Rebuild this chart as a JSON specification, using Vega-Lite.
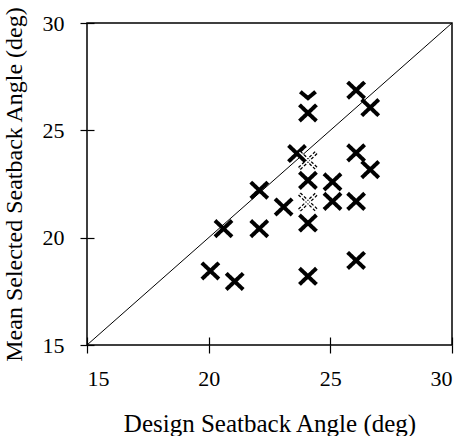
{
  "$schema": "https://vega.github.io/schema/vega-lite/v6.json",
  "width": 365,
  "height": 322,
  "autosize": "none",
  "padding": {"left": 87, "top": 23, "right": 15, "bottom": 91},
  "background": "white",
  "config": {
    "view": {"stroke": "black", "strokeWidth": 1.5},
    "font": "Liberation Serif",
    "axis": {
      "grid": false,
      "domain": false,
      "labelFont": "Liberation Serif",
      "titleFont": "Liberation Serif",
      "labelColor": "black",
      "titleColor": "black",
      "tickColor": "black",
      "labelFontSize": 22,
      "titleFontSize": 24,
      "titleFontWeight": "normal",
      "tickWidth": 1.2
    }
  },
  "resolve": {"axis": {"x": "independent", "y": "independent"}},
  "datasets": {
    "pts": [
      {"design": 20.07, "selected": 18.45, "kind": "solid"},
      {"design": 21.07, "selected": 17.96, "kind": "solid"},
      {"design": 20.61, "selected": 20.42, "kind": "solid"},
      {"design": 22.08, "selected": 20.42, "kind": "solid"},
      {"design": 22.08, "selected": 22.21, "kind": "solid"},
      {"design": 23.08, "selected": 21.43, "kind": "solid"},
      {"design": 23.63, "selected": 23.92, "kind": "solid"},
      {"design": 24.08, "selected": 26.5, "kind": "half"},
      {"design": 24.08, "selected": 25.81, "kind": "solid"},
      {"design": 24.08, "selected": 22.67, "kind": "solid"},
      {"design": 24.08, "selected": 20.68, "kind": "solid"},
      {"design": 24.08, "selected": 18.2, "kind": "solid"},
      {"design": 24.08, "selected": 23.6, "kind": "ghost"},
      {"design": 24.08, "selected": 21.66, "kind": "ghost"},
      {"design": 25.09, "selected": 22.6, "kind": "solid"},
      {"design": 25.09, "selected": 21.69, "kind": "solid"},
      {"design": 26.06, "selected": 26.87, "kind": "solid"},
      {"design": 26.64, "selected": 26.06, "kind": "solid"},
      {"design": 26.06, "selected": 23.95, "kind": "solid"},
      {"design": 26.64, "selected": 23.17, "kind": "solid"},
      {"design": 26.06, "selected": 21.69, "kind": "solid"},
      {"design": 26.06, "selected": 18.94, "kind": "solid"}
    ],
    "diag": [
      {"design": 15, "selected": 15},
      {"design": 30, "selected": 30}
    ]
  },
  "layer": [
    {
      "data": {"name": "diag"},
      "mark": {"type": "line", "color": "black", "strokeWidth": 1, "clip": true},
      "encoding": {
        "x": {
          "field": "design", "type": "quantitative",
          "scale": {"domain": [15, 30], "nice": false, "zero": false},
          "axis": {
            "orient": "bottom",
            "values": [15, 20, 25, 30],
            "title": "Design Seatback Angle (deg)",
            "labelFont": "Liberation Serif",
            "titleFont": "Liberation Serif",
            "titleFontSize": 25,
            "tickSize": 8,
            "labelPadding": 15,
            "titlePadding": 22
          }
        },
        "y": {
          "field": "selected", "type": "quantitative",
          "scale": {"domain": [15, 30], "nice": false, "zero": false},
          "axis": {
            "orient": "left",
            "values": [15, 20, 25, 30],
            "title": "Mean Selected Seatback Angle (deg)",
            "labelFont": "Liberation Serif",
            "titleFont": "Liberation Serif",
            "tickSize": 7,
            "labelPadding": 16,
            "titlePadding": 16
          }
        }
      }
    },
    {
      "data": {"name": "pts"},
      "mark": {"type": "point", "filled": false, "strokeWidth": 4, "color": "black", "opacity": 1, "size": 290},
      "encoding": {
        "x": {
          "field": "design", "type": "quantitative",
          "axis": {"orient": "bottom", "values": [15, 20, 25, 30], "labels": false, "title": null, "tickSize": -8}
        },
        "y": {
          "field": "selected", "type": "quantitative",
          "axis": {"orient": "left", "values": [15, 20, 25, 30], "labels": false, "title": null, "tickSize": -7}
        },
        "shape": {
          "field": "kind", "type": "nominal", "legend": null,
          "scale": {
            "domain": ["solid", "ghost", "half"],
            "range": ["M-1,-0.95L1,0.95M-1,0.95L1,-0.95", "M-1,-0.95L1,0.95M-1,0.95L1,-0.95", "M-0.9,-0.75L0,0L0.9,-0.75"]
          }
        },
        "strokeDash": {
          "field": "kind", "type": "nominal", "legend": null,
          "scale": {"domain": ["solid", "ghost", "half"], "range": [[1, 0], [3, 2], [1, 0]]}
        }
      }
    },
    {
      "data": {"name": "pts"},
      "transform": [{"filter": "datum.kind === 'ghost'"}],
      "mark": {"type": "point", "filled": false, "strokeWidth": 1.5, "color": "white", "opacity": 1, "size": 290, "shape": "M-1,-0.95L1,0.95M-1,0.95L1,-0.95"},
      "encoding": {
        "x": {"field": "design", "type": "quantitative", "axis": null},
        "y": {"field": "selected", "type": "quantitative", "axis": null}
      }
    }
  ]
}
